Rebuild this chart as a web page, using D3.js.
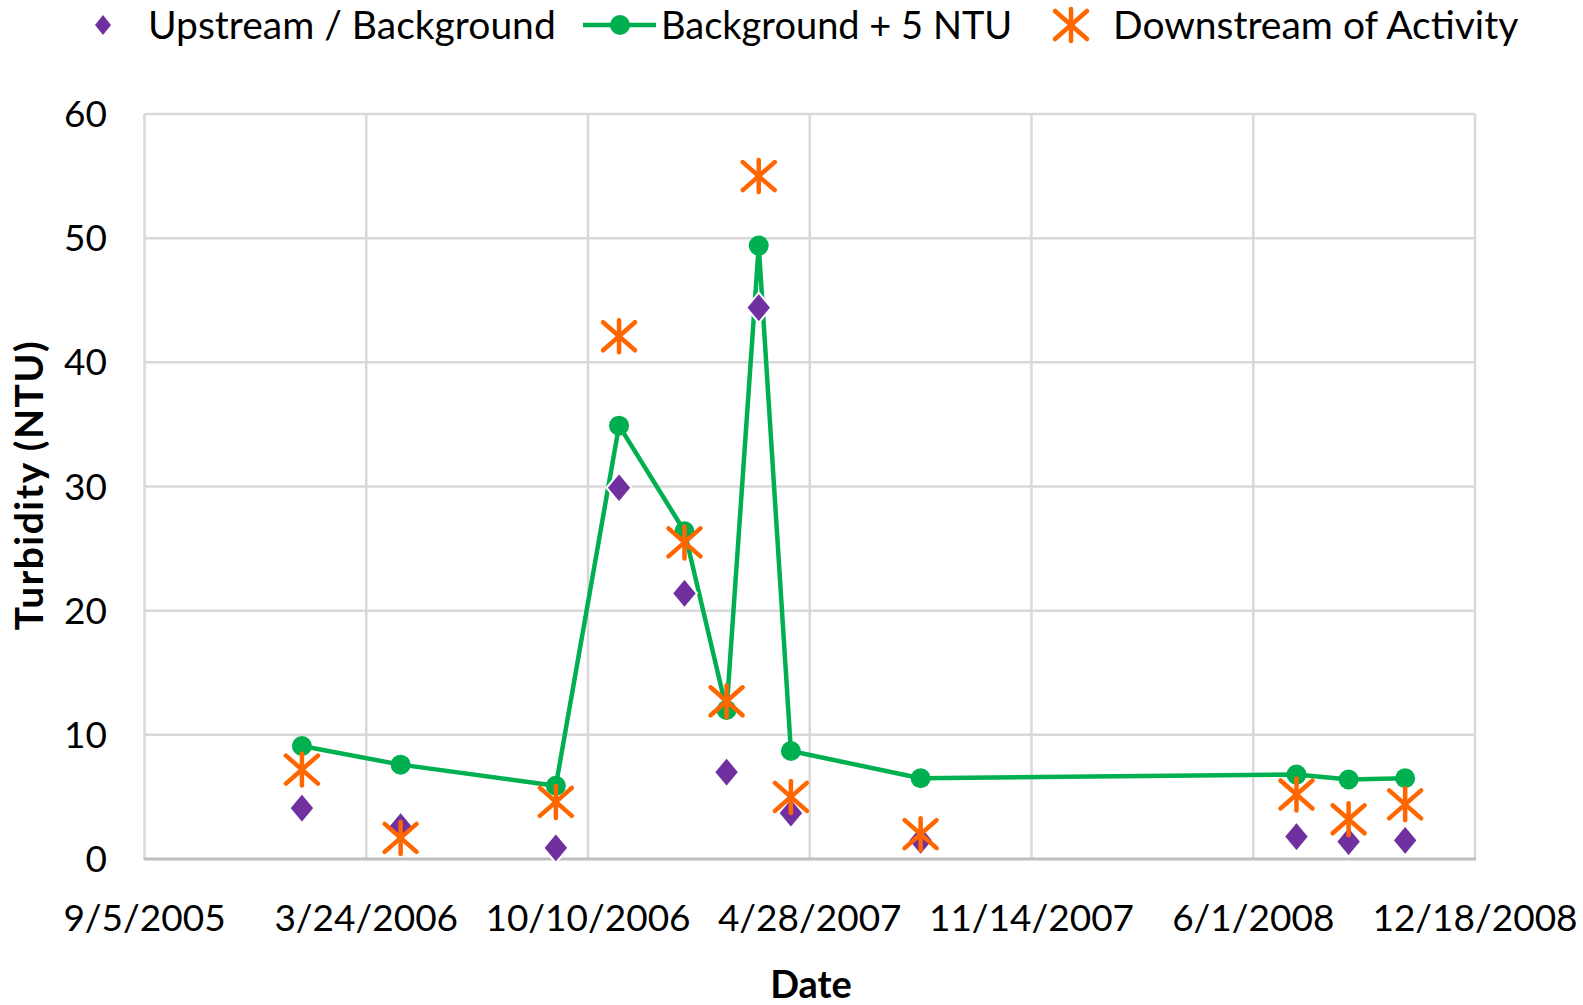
<!DOCTYPE html>
<html>
<head>
<meta charset="utf-8">
<script src="https://cdn.jsdelivr.net/npm/d3@7"></script>
<style>
  body { margin: 0; background: #fff; }
  svg { display: block; font-family: Lato, "Open Sans", sans-serif; }
</style>
</head>
<body>
<div id="chart"></div>
<script>
// sample dates and turbidity readings (NTU)
const dates = ["1/25/2006", "4/24/2006", "9/11/2006", "11/7/2006", "1/5/2007", "2/12/2007",
  "3/13/2007", "4/11/2007", "8/6/2007", "7/10/2008", "8/26/2008", "10/16/2008"];
const upstream = [4.1, 2.6, 0.9, 29.9, 21.4, 7.0, 44.4, 3.7, 1.5, 1.8, 1.4, 1.5];
const threshold = [9.1, 7.6, 5.9, 34.9, 26.4, 12.0, 49.4, 8.7, 6.5, 6.8, 6.4, 6.5];
const downstream = [7.2, 1.7, 4.6, 42.1, 25.5, 12.7, 55.0, 5.0, 2.0, 5.2, 3.2, 4.4];

const xTickLabels = ["9/5/2005", "3/24/2006", "10/10/2006", "4/28/2007", "11/14/2007", "6/1/2008", "12/18/2008"];
const yTicks = [0, 10, 20, 30, 40, 50, 60];
const seriesNames = ["Upstream / Background", "Background + 5 NTU", "Downstream of Activity"];

const width = 1583, height = 1005;
const purple = "#7030a0", green = "#00b050", orange = "#ff6600";
const parse = d3.utcParse("%m/%d/%Y");

const svg = d3.select("#chart").append("svg")
  .attr("width", width)
  .attr("height", height);

const x = d3.scaleUtc()
  .domain([parse(xTickLabels[0]), parse(xTickLabels[xTickLabels.length - 1])])
  .range([144.5, 1475]);

const y = d3.scaleLinear()
  .domain([0, 60])
  .range([859, 114]);

// gridlines
svg.append("g")
  .selectAll("line")
  .data(yTicks.slice(1))
  .join("line")
  .attr("x1", x.range()[0]).attr("x2", x.range()[1])
  .attr("y1", d => y(d)).attr("y2", d => y(d))
  .attr("stroke", "#d9d9d9")
  .attr("stroke-width", 2.5);

svg.append("g")
  .selectAll("line")
  .data(xTickLabels)
  .join("line")
  .attr("x1", d => x(parse(d))).attr("x2", d => x(parse(d)))
  .attr("y1", y(60)).attr("y2", y(0))
  .attr("stroke", "#d9d9d9")
  .attr("stroke-width", 2.5);

// bottom axis line
svg.append("line")
  .attr("x1", x.range()[0] - 1).attr("x2", x.range()[1] + 1)
  .attr("y1", y(0)).attr("y2", y(0))
  .attr("stroke", "#bfbfbf")
  .attr("stroke-width", 3);

// tick labels
svg.append("g")
  .selectAll("text")
  .data(yTicks)
  .join("text")
  .attr("x", 107)
  .attr("y", d => y(d) + 13)
  .attr("text-anchor", "end")
  .attr("font-size", 37)
  .attr("fill", "#000")
  .text(d => d);

svg.append("g")
  .selectAll("text")
  .data(xTickLabels)
  .join("text")
  .attr("x", d => x(parse(d)))
  .attr("y", 931)
  .attr("text-anchor", "middle")
  .attr("font-size", 37)
  .attr("fill", "#000")
  .text(d => d);

// axis titles
svg.append("text")
  .attr("transform", "translate(43,485) rotate(-90)")
  .attr("text-anchor", "middle")
  .attr("font-size", 39)
  .attr("letter-spacing", 1.5)
  .attr("font-weight", "bold")
  .text("Turbidity (NTU)");

svg.append("text")
  .attr("x", 811)
  .attr("y", 998)
  .attr("text-anchor", "middle")
  .attr("font-size", 38)
  .attr("font-weight", "bold")
  .text("Date");

const rows = dates.map((d, i) => ({
  date: parse(d), up: upstream[i], th: threshold[i], down: downstream[i]
}));

// marker helpers
const diamondPath = "M0,-15 L12.5,0 L0,15 L-12.5,0 Z";
function drawStar(g) {
  g.append("line").attr("x1", 0).attr("y1", -16).attr("x2", 0).attr("y2", 16);
  g.append("line").attr("x1", -16).attr("y1", -14).attr("x2", 16).attr("y2", 14);
  g.append("line").attr("x1", -16).attr("y1", 14).attr("x2", 16).attr("y2", -14);
  g.attr("stroke", orange).attr("stroke-width", 4.5).attr("stroke-linecap", "round");
}

// green line series
const line = d3.line()
  .x(d => x(d.date))
  .y(d => y(d.th));

svg.append("path")
  .datum(rows)
  .attr("d", line)
  .attr("fill", "none")
  .attr("stroke", green)
  .attr("stroke-width", 4.5)
  .attr("stroke-linejoin", "round");

svg.append("g")
  .selectAll("circle")
  .data(rows)
  .join("circle")
  .attr("cx", d => x(d.date))
  .attr("cy", d => y(d.th))
  .attr("r", 10)
  .attr("fill", green);

// upstream diamonds
svg.append("g")
  .selectAll("path")
  .data(rows)
  .join("path")
  .attr("transform", d => `translate(${x(d.date)},${y(d.up)})`)
  .attr("d", diamondPath)
  .attr("fill", purple)
  .attr("stroke", "#fff")
  .attr("stroke-width", 2);

// downstream stars
svg.append("g")
  .selectAll("g")
  .data(rows)
  .join("g")
  .attr("transform", d => `translate(${x(d.date)},${y(d.down)})`)
  .each(function () { drawStar(d3.select(this)); });

// legend
const legend = svg.append("g");
legend.append("path")
  .attr("transform", "translate(103,25)")
  .attr("d", "M0,-10 L8,0 L0,10 L-8,0 Z")
  .attr("fill", purple);
legend.append("text").attr("x", 148).attr("y", 39).attr("font-size", 39).text(seriesNames[0]);

legend.append("line")
  .attr("x1", 583).attr("x2", 656).attr("y1", 25).attr("y2", 25)
  .attr("stroke", green).attr("stroke-width", 4.5);
legend.append("circle").attr("cx", 620).attr("cy", 25).attr("r", 10).attr("fill", green);
legend.append("text").attr("x", 661).attr("y", 39).attr("font-size", 38).text(seriesNames[1]);

const ls = legend.append("g").attr("transform", "translate(1071,25)");
drawStar(ls);
legend.append("text").attr("x", 1113).attr("y", 39).attr("font-size", 39).text(seriesNames[2]);
</script>
</body>
</html>
